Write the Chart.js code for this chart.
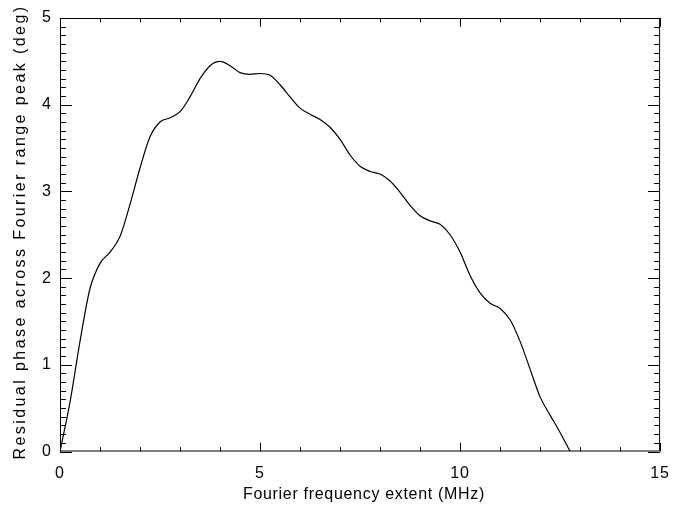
<!DOCTYPE html>
<html>
<head>
<meta charset="utf-8">
<script src="https://cdn.jsdelivr.net/npm/chart.js@4.4.1/dist/chart.umd.min.js"></script>
<style>
  html, body { margin: 0; padding: 0; background: #fff; }
  #wrap { width: 681px; height: 511px; }
</style>
</head>
<body>
<div id="wrap"><canvas id="c" width="681" height="511"></canvas></div>
<script>
// Fourier frequency extent (MHz)
const extentMHz = [
  0, 0.25, 0.5, 0.75, 1.0, 1.25, 1.5, 1.75, 2.0, 2.25, 2.5, 2.75, 3.0,
  3.25, 3.5, 3.75, 4.0, 4.25, 4.5, 4.75, 5.0, 5.25, 5.5, 5.75, 6.0,
  6.25, 6.5, 6.75, 7.0, 7.25, 7.5, 7.75, 8.0, 8.25, 8.5, 8.75, 9.0,
  9.25, 9.5, 9.75, 10.0, 10.25, 10.5, 10.75, 11.0, 11.25, 11.5, 11.75,
  12.0, 12.25, 12.5, 12.75
];
// Residual phase across the Fourier range peak (deg)
const residualDeg = [
  0, 0.57, 1.27, 1.88, 2.17, 2.30, 2.48, 2.85, 3.27, 3.63, 3.80, 3.85, 3.92,
  4.09, 4.30, 4.45, 4.50, 4.45, 4.37, 4.35, 4.36, 4.34, 4.23, 4.09, 3.96,
  3.89, 3.83, 3.74, 3.60, 3.42, 3.29, 3.23, 3.20, 3.12, 2.99, 2.84, 2.72,
  2.66, 2.62, 2.50, 2.30, 2.03, 1.83, 1.71, 1.65, 1.52, 1.27, 0.95,
  0.63, 0.42, 0.22, 0.0
];
const xTickValues = [0, 5, 10, 15];
const yTickValues = [0, 1, 2, 3, 4, 5];
const xMinorStep = 1;
const yMinorStep = 0.1;
const xTitle = 'Fourier frequency extent (MHz)';
const yTitle = 'Residual phase across Fourier range peak (deg)';

const FONT = "'Liberation Sans', 'DejaVu Sans', sans-serif";
const TITLE_FONT = "16px " + FONT;

// Wide, evenly tracked lettering for the tick labels
const tracking = {
  id: 'tracking',
  beforeDraw(chart) { chart.ctx.letterSpacing = '1px'; }
};

// Axis titles drawn with their own tracking so they span the full axes
const axisTitles = {
  id: 'axisTitles',
  afterDraw(chart) {
    const { ctx } = chart;
    const drawSpan = (text, span) => {
      ctx.letterSpacing = '0px';
      const w0 = ctx.measureText(text).width;
      ctx.letterSpacing = ((span - w0) / text.length).toFixed(2) + 'px';
      ctx.fillText(text, 0, 0);
    };
    ctx.save();
    ctx.font = TITLE_FONT;
    ctx.fillStyle = '#000';
    ctx.textAlign = 'center';
    ctx.textBaseline = 'middle';
    ctx.save();
    ctx.translate(364, 495);
    drawSpan(xTitle, 242);
    ctx.restore();
    ctx.save();
    ctx.translate(21, 232);
    ctx.rotate(-Math.PI / 2);
    drawSpan(yTitle, 455);
    ctx.restore();
    ctx.restore();
  }
};

// Box frame with inward major/minor tick marks on all four sides
const frameTicks = {
  id: 'frameTicks',
  afterDraw(chart) {
    const { ctx, chartArea: a, scales } = chart;
    const xs = scales.x, ys = scales.y;
    const w = a.right - a.left, h = a.bottom - a.top;
    const xMaj = 0.02 * h, xMin = xMaj / 2;
    const yMaj = 0.02 * w, yMin = yMaj / 2;
    ctx.save();
    ctx.strokeStyle = '#000';
    ctx.lineWidth = 1;
    ctx.beginPath();
    ctx.rect(a.left + 0.5, a.top + 0.5, w - 1, h - 1);
    ctx.stroke();
    ctx.beginPath();
    for (let i = 0; ; i++) {
      const v = xs.min + i * xMinorStep;
      if (v > xs.max + 1e-9) break;
      const px = Math.round(xs.getPixelForValue(v)) + 0.5;
      const len = xTickValues.some(t => Math.abs(t - v) < 1e-6) ? xMaj : xMin;
      ctx.moveTo(px, a.bottom); ctx.lineTo(px, a.bottom - len);
      ctx.moveTo(px, a.top); ctx.lineTo(px, a.top + len);
    }
    for (let i = 0; ; i++) {
      const v = ys.min + i * yMinorStep;
      if (v > ys.max + 1e-9) break;
      const py = Math.round(ys.getPixelForValue(v)) + 0.5;
      const len = yTickValues.some(t => Math.abs(t - v) < 1e-6) ? yMaj : yMin;
      ctx.moveTo(a.left, py); ctx.lineTo(a.left + len, py);
      ctx.moveTo(a.right, py); ctx.lineTo(a.right - len, py);
    }
    ctx.stroke();
    ctx.restore();
  }
};

new Chart(document.getElementById('c'), {
  type: 'scatter',
  data: {
    datasets: [{
      data: extentMHz.map((x, i) => ({ x, y: residualDeg[i] })),
      showLine: true,
      borderColor: '#000',
      borderWidth: 1.2,
      pointRadius: 0,
      cubicInterpolationMode: 'monotone',
      fill: false
    }]
  },
  options: {
    responsive: false,
    animation: false,
    devicePixelRatio: 1,
    layout: { padding: { left: 0, right: 12, top: 18, bottom: 0 } },
    plugins: { legend: { display: false }, tooltip: { enabled: false } },
    scales: {
      x: {
        type: 'linear',
        min: 0, max: 15,
        afterBuildTicks(s) { s.ticks = xTickValues.map(v => ({ value: v })); },
        afterFit(s) { s.height = 59.5; },
        grid: { display: false, drawTicks: false },
        border: { display: false },
        ticks: { color: '#000', padding: 12, font: { family: FONT, size: 16 } },
        title: { display: false }
      },
      y: {
        type: 'linear',
        min: 0, max: 5,
        afterBuildTicks(s) { s.ticks = yTickValues.map(v => ({ value: v })); },
        afterFit(s) { s.width = 60; },
        grid: { display: false, drawTicks: false },
        border: { display: false },
        ticks: { color: '#000', padding: 8, font: { family: FONT, size: 16 } },
        title: { display: false }
      }
    }
  },
  plugins: [tracking, frameTicks, axisTitles]
});
</script>
</body>
</html>
